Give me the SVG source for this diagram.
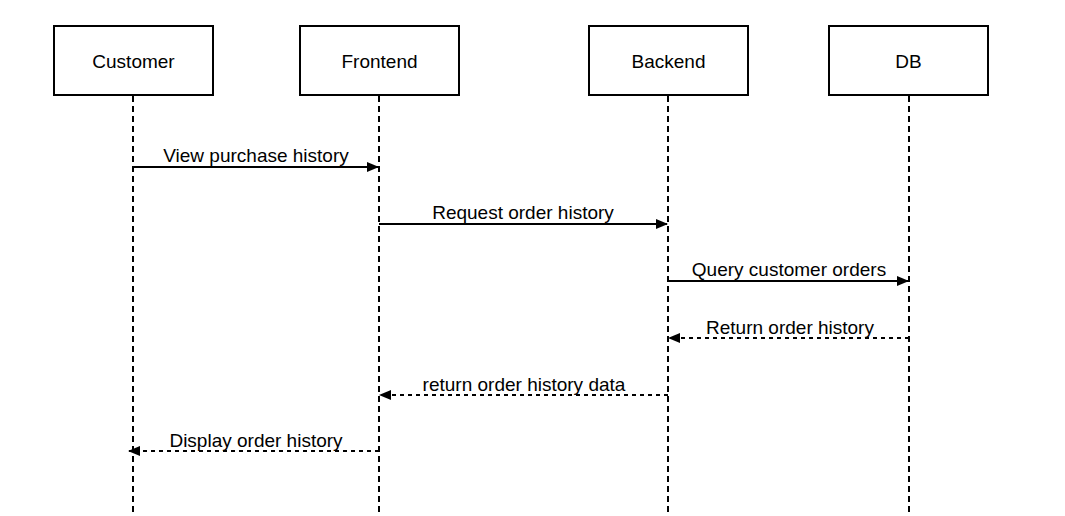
<svg xmlns="http://www.w3.org/2000/svg" width="1065" height="516" viewBox="0 0 1065 516">
<style>
.box{fill:#fff;stroke:#000;stroke-width:2}
.lbl{font-family:"Liberation Sans",Arial,sans-serif;font-size:19px;fill:#000;text-anchor:middle}
.life{stroke:#000;stroke-width:2;stroke-dasharray:6 4;fill:none}
.msg{stroke:#000;stroke-width:2;fill:none}
.ret{stroke:#000;stroke-width:2;stroke-dasharray:4 4;fill:none}
</style>
<defs>
<marker id="ah" markerWidth="12" markerHeight="10" refX="11" refY="5" orient="auto" markerUnits="userSpaceOnUse">
<path d="M0,0 L12,5 L0,10 Z" fill="#000"/>
</marker>
</defs>
<rect width="1065" height="516" fill="#fff"/>
<g id="connectors">
<line class="life" x1="133" y1="96" x2="133" y2="512"/>
<line class="life" x1="379" y1="96" x2="379" y2="512"/>
<line class="life" x1="668" y1="96" x2="668" y2="512"/>
<line class="life" x1="909" y1="96" x2="909" y2="512"/>
<line class="msg" x1="133" y1="167" x2="378" y2="167" marker-end="url(#ah)"/>
<text class="lbl" x="256" y="162">View purchase history</text>
<line class="msg" x1="379" y1="224" x2="667" y2="224" marker-end="url(#ah)"/>
<text class="lbl" x="523" y="219">Request order history</text>
<line class="msg" x1="668" y1="281" x2="908" y2="281" marker-end="url(#ah)"/>
<text class="lbl" x="789" y="276">Query customer orders</text>
<line class="ret" x1="909" y1="338" x2="669" y2="338" marker-end="url(#ah)"/>
<text class="lbl" x="790" y="334">Return order history</text>
<line class="ret" x1="668" y1="395" x2="380" y2="395" marker-end="url(#ah)"/>
<text class="lbl" x="524" y="391">return order history data</text>
<line class="ret" x1="379" y1="451" x2="129" y2="451" marker-end="url(#ah)"/>
<text class="lbl" x="256" y="447">Display order history</text>
</g>
<g id="customer"><rect class="box" x="54" y="26" width="159" height="69"/><text class="lbl" x="133.5" y="68">Customer</text></g>
<g id="frontend"><rect class="box" x="300" y="26" width="159" height="69"/><text class="lbl" x="379.5" y="68">Frontend</text></g>
<g id="backend"><rect class="box" x="589" y="26" width="159" height="69"/><text class="lbl" x="668.5" y="68">Backend</text></g>
<g id="db"><rect class="box" x="829" y="26" width="159" height="69"/><text class="lbl" x="908.5" y="68">DB</text></g>
</svg>
